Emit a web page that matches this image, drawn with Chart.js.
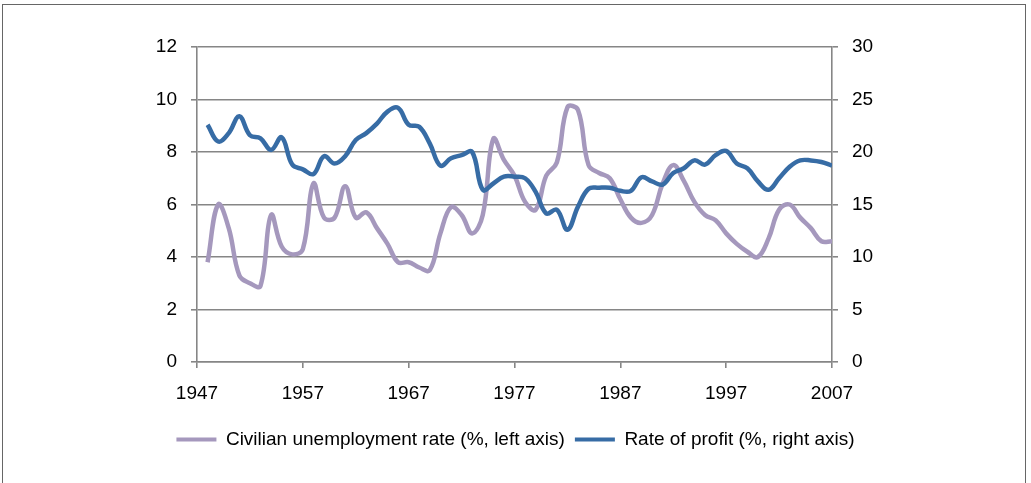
<!DOCTYPE html>
<html>
<head>
<meta charset="utf-8">
<script src="https://cdn.jsdelivr.net/npm/chart.js@4/dist/chart.umd.min.js"></script>
<style>
  html, body { margin: 0; padding: 0; background: #fff; }
  #wrap { position: relative; width: 1031px; height: 483px; overflow: hidden; background: #fff; }
  #frame { position: absolute; left: 2px; top: 4px; width: 1024px; height: 520px; border: 1px solid #666; box-sizing: border-box; }
  canvas { position: absolute; left: 0; top: 0; }
</style>
</head>
<body>
<div id="wrap">
  <div id="frame"></div>
  <canvas id="c" width="1031" height="483"></canvas>
</div>
<script>
const years = [1948,1949,1950,1951,1952,1953,1954,1955,1956,1957,
  1958,1959,1960,1961,1962,1963,1964,1965,1966,1967,
  1968,1969,1970,1971,1972,1973,1974,1975,1976,1977,
  1978,1979,1980,1981,1982,1983,1984,1985,1986,1987,
  1988,1989,1990,1991,1992,1993,1994,1995,1996,1997,
  1998,1999,2000,2001,2002,2003,2004,2005,2006,2007];

const unemployment = [3.8,6.0,5.1,3.3,3.0,2.9,5.6,4.4,4.1,4.3,
  6.8,5.5,5.5,6.7,5.5,5.7,5.1,4.5,3.8,3.8,
  3.6,3.5,4.9,5.9,5.6,4.9,5.6,8.5,7.7,7.1,
  6.1,5.8,7.1,7.6,9.7,9.6,7.5,7.2,7.0,6.2,
  5.5,5.3,5.6,6.8,7.5,6.9,6.1,5.6,5.4,4.9,
  4.5,4.2,4.0,4.7,5.8,6.0,5.5,5.1,4.6,4.6];

const profitRate = [22.6,21.0,21.8,23.4,21.6,21.3,20.2,21.4,18.8,18.35,
  17.9,19.6,18.9,19.6,21.15,21.8,22.7,23.85,24.2,22.6,
  22.4,20.8,18.7,19.4,19.7,20.0,16.4,17.0,17.65,17.65,
  17.5,16.2,14.15,14.5,12.6,14.8,16.5,16.6,16.6,16.3,
  16.3,17.6,17.2,16.9,18.0,18.45,19.2,18.8,19.7,20.1,
  18.9,18.45,17.2,16.4,17.5,18.6,19.2,19.2,19.05,18.7];

const xTickYears = [1947,1957,1967,1977,1987,1997,2007];
const leftTicks = [0,2,4,6,8,10,12];
const rightTicks = [0,5,10,15,20,25,30];
const seriesNames = ['Civilian unemployment rate (%, left axis)', 'Rate of profit (%, right axis)'];

const PURPLE = '#A598BD';
const BLUE = '#376CA5';
const GRID = '#868686';
const FONT = "'Liberation Sans', Arial, sans-serif";

const toPts = (vals) => vals.map((v, i) => ({ x: years[i], y: v }));

new Chart(document.getElementById('c'), {
  type: 'line',
  data: {
    datasets: [
      { label: seriesNames[0], data: toPts(unemployment), yAxisID: 'yL',
        borderColor: PURPLE, backgroundColor: PURPLE, borderWidth: 4.5,
        pointRadius: 0, tension: 0.4, order: 1, fill: false },
      { label: seriesNames[1], data: toPts(profitRate), yAxisID: 'yR',
        borderColor: BLUE, backgroundColor: BLUE, borderWidth: 4.5,
        pointRadius: 0, tension: 0.4, order: 0, fill: false }
    ]
  },
  options: {
    responsive: false,
    animation: false,
    layout: { padding: { left: 0, right: 0, top: 47, bottom: 24 } },
    plugins: {
      tooltip: { enabled: false },
      legend: {
        position: 'bottom',
        labels: {
          font: { family: FONT, size: 19 },
          color: '#000',
          boxWidth: 40,
          boxHeight: 4,
          padding: 10,
          sort: (a, b) => a.datasetIndex - b.datasetIndex,
          generateLabels: (chart) => {
            const items = Chart.defaults.plugins.legend.labels.generateLabels(chart);
            items.forEach(it => { it.lineWidth = 0; it.strokeStyle = 'rgba(0,0,0,0)'; });
            return items;
          }
        }
      }
    },
    scales: {
      x: {
        type: 'linear', min: 1947, max: 2007,
        afterBuildTicks: (s) => { s.ticks = xTickYears.map(v => ({ value: v })); },
        afterFit: (s) => { s.height = 58; },
        ticks: { font: { family: FONT, size: 19 }, color: '#000', padding: 14,
                 maxRotation: 0, autoSkip: false, callback: (v) => String(v) },
        grid: { drawOnChartArea: false, drawTicks: true, tickLength: 6, color: GRID, lineWidth: 1.6 },
        border: { color: GRID, width: 1.6 }
      },
      yL: {
        position: 'left', min: 0, max: 12,
        afterBuildTicks: (s) => { s.ticks = leftTicks.map(v => ({ value: v })); },
        afterFit: (s) => { s.width = 197; },
        ticks: { font: { family: FONT, size: 19 }, color: '#000', padding: 14 },
        grid: { color: GRID, lineWidth: 1.6, tickLength: 6 },
        border: { color: GRID, width: 1.6 }
      },
      yR: {
        position: 'right', min: 0, max: 30,
        afterBuildTicks: (s) => { s.ticks = rightTicks.map(v => ({ value: v })); },
        afterFit: (s) => { s.width = 199; },
        ticks: { font: { family: FONT, size: 19 }, color: '#000', padding: 14 },
        grid: { drawOnChartArea: false, color: GRID, lineWidth: 1.6, tickLength: 6 },
        border: { color: GRID, width: 1.6 }
      }
    }
  }
});
</script>
</body>
</html>
